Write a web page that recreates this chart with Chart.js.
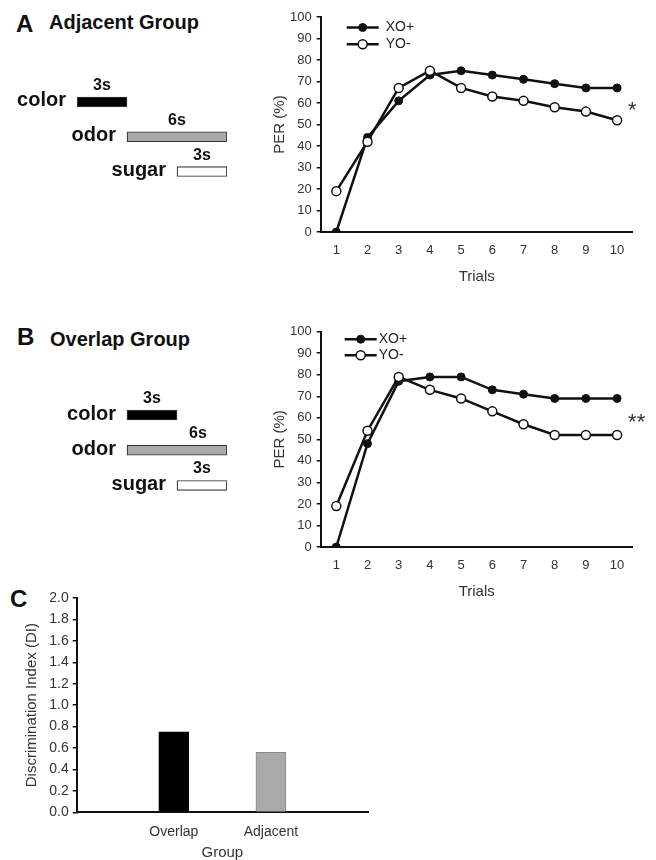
<!DOCTYPE html>
<html>
<head>
<meta charset="utf-8">
<script src="https://cdn.jsdelivr.net/npm/chart.js@4.4.1/dist/chart.umd.min.js"></script>
<style>
body { margin:0; background:#fff; width:656px; height:860px; position:relative; overflow:hidden; font-family:"Liberation Sans", Arial, sans-serif; }
.box { position:absolute; }
.title { position:absolute; font-weight:bold; color:#111; white-space:nowrap; line-height:1; }
</style>
</head>
<body>
<div class="title" style="left:16px;top:12px;font-size:24px">A</div>
<div class="title" style="left:49px;top:12px;font-size:20px">Adjacent Group</div>
<div class="title" style="left:17px;top:325px;font-size:24px">B</div>
<div class="title" style="left:50px;top:329px;font-size:20px">Overlap Group</div>
<div class="title" style="left:10px;top:587px;font-size:24px">C</div>

<div class="box" style="left:0;top:60px;width:270px;height:140px"><canvas id="diagA"></canvas></div>
<div class="box" style="left:0;top:370px;width:270px;height:140px"><canvas id="diagB"></canvas></div>
<div class="box" style="left:270px;top:0;width:386px;height:290px"><canvas id="lineA"></canvas></div>
<div class="box" style="left:270px;top:290px;width:386px;height:315px"><canvas id="lineB"></canvas></div>
<div class="box" style="left:0;top:580px;width:400px;height:280px"><canvas id="barC"></canvas></div>

<script>
// timing diagrams (seconds, both trials end with sugar at 9s)
const stimuli = ['color', 'odor', 'sugar'];
const adjacentTiming = [[0, 3], [3, 9], [6, 9]];
const overlapTiming = [[3, 6], [3, 9], [6, 9]];
const stimulusColors = ['#000', '#aaa', '#fff'];

// PER curves
const trials = ['1', '2', '3', '4', '5', '6', '7', '8', '9', '10'];
const adjacentXO = [0, 44, 61, 73, 75, 73, 71, 69, 67, 67];
const adjacentYO = [19, 42, 67, 75, 67, 63, 61, 58, 56, 52];
const overlapXO = [0, 48, 77, 79, 79, 73, 71, 69, 69, 69];
const overlapYO = [19, 54, 79, 73, 69, 63, 57, 52, 52, 52];
const sigAdjacent = '*';
const sigOverlap = '**';

// discrimination index
const groups = ['Overlap', 'Adjacent'];
const discrimination = [0.75, 0.56];
const groupColors = ['#000', '#aaa'];

Chart.defaults.font.family = '"Liberation Sans", Arial, sans-serif';
Chart.defaults.animation = false;

const FONT = '"Liberation Sans", Arial, sans-serif';

const timeline = {
    id: 'timeline',
    afterDatasetsDraw(chart, args, opts) {
        const ctx = chart.ctx;
        const timing = chart.data.datasets[0].data;
        chart.getDatasetMeta(0).data.forEach((bar, i) => {
            const { x, y, base, height } = bar.getProps(['x', 'y', 'base', 'height'], true);
            const left = Math.min(x, base), right = Math.max(x, base);
            ctx.save();
            ctx.fillStyle = '#111';
            ctx.font = 'bold 20px ' + FONT;
            ctx.textAlign = 'right';
            ctx.textBaseline = 'middle';
            ctx.fillText(chart.data.labels[i], left - 11, y - 1);
            ctx.font = 'bold 16px ' + FONT;
            ctx.textAlign = 'center';
            ctx.textBaseline = 'alphabetic';
            const shift = opts.shift ? opts.shift[i] : 0;
            ctx.fillText((timing[i][1] - timing[i][0]) + 's', (left + right) / 2 + shift, y - height / 2 - 7);
            ctx.restore();
        });
    }
};

function diagram(id, timing, pad, shift) {
    new Chart(document.getElementById(id), {
        type: 'bar',
        data: {
            labels: stimuli,
            datasets: [{
                data: timing,
                backgroundColor: stimulusColors,
                borderColor: '#333',
                borderWidth: 1.2,
                borderSkipped: false,
                barThickness: 10
            }]
        },
        options: {
            indexAxis: 'y',
            responsive: true,
            maintainAspectRatio: false,
            layout: { padding: pad },
            plugins: { legend: { display: false }, tooltip: { enabled: false }, timeline: { shift: shift } },
            scales: {
                x: { type: 'linear', min: 0, max: 9, display: false },
                y: { display: false }
            }
        },
        plugins: [timeline]
    });
}

diagram('diagA', adjacentTiming, { left: 77, right: 43, top: 24.6, bottom: 11.1 }, [0, 0, 0]);
diagram('diagB', overlapTiming, { left: 77, right: 43, top: 27.4, bottom: 6.9 }, [0, 21, 0]);

const lineLegend = {
    id: 'lineLegend',
    afterDraw(chart, args, opts) {
        const { ctx, chartArea } = chart;
        ctx.save();
        chart.data.datasets.forEach((ds, i) => {
            const y = chartArea.top + opts.top + i * opts.gap;
            const x0 = chartArea.left + opts.left;
            ctx.strokeStyle = ds.borderColor;
            ctx.lineWidth = ds.borderWidth;
            ctx.beginPath();
            ctx.moveTo(x0, y);
            ctx.lineTo(x0 + 32, y);
            ctx.stroke();
            ctx.beginPath();
            ctx.arc(x0 + 16, y, ds.pointRadius, 0, Math.PI * 2);
            ctx.fillStyle = ds.pointBackgroundColor;
            ctx.fill();
            ctx.lineWidth = ds.pointBorderWidth;
            ctx.strokeStyle = ds.pointBorderColor;
            ctx.stroke();
            ctx.fillStyle = '#222';
            ctx.font = '14px ' + FONT;
            ctx.textBaseline = 'middle';
            ctx.textAlign = 'left';
            ctx.fillText(ds.label, x0 + opts.textGap, y);
        });
        // significance stars beside the last trial
        const last = chart.data.labels.length - 1;
        const a = chart.data.datasets[0].data[last];
        const b = chart.data.datasets[1].data[last];
        const sx = chart.scales.x.getPixelForValue(last) + 11;
        const sy = chart.scales.y.getPixelForValue((a + b) / 2);
        ctx.fillStyle = '#333';
        ctx.font = '22px ' + FONT;
        ctx.textAlign = 'left';
        ctx.textBaseline = 'alphabetic';
        ctx.fillText(opts.stars, sx, sy + 12.5);
        ctx.restore();
    }
};

function perChart(id, xo, yo, stars, padTop, legend) {
    new Chart(document.getElementById(id), {
        type: 'line',
        data: {
            labels: trials,
            datasets: [
                { label: 'XO+', data: xo, order: 1, borderColor: '#111', borderWidth: 2.5, tension: 0,
                  pointRadius: 4, pointBackgroundColor: '#111', pointBorderColor: '#111', pointBorderWidth: 1 },
                { label: 'YO-', data: yo, order: 0, borderColor: '#111', borderWidth: 2.5, tension: 0,
                  pointRadius: 4.5, pointBackgroundColor: '#fff', pointBorderColor: '#111', pointBorderWidth: 1.5 }
            ]
        },
        options: {
            responsive: true,
            maintainAspectRatio: false,
            layout: { padding: { top: padTop, right: 23.3, left: 0, bottom: 0 } },
            plugins: { legend: { display: false }, tooltip: { enabled: false }, lineLegend: Object.assign({ stars: stars }, legend) },
            scales: {
                x: {
                    offset: true,
                    grid: { drawOnChartArea: false, drawTicks: false },
                    border: { display: true, color: '#111', width: 2 },
                    ticks: { color: '#333', font: { size: 13 }, padding: 11 },
                    title: { display: true, text: 'Trials', color: '#333', font: { size: 15 }, padding: { top: 4, bottom: 4 } },
                    afterFit: (s) => { s.height = 58; }
                },
                y: {
                    min: 0, max: 100,
                    grid: { drawOnChartArea: false, drawTicks: true, tickLength: 4, color: '#111', lineWidth: 1.5 },
                    border: { display: true, color: '#111', width: 2 },
                    ticks: { stepSize: 10, color: '#333', font: { size: 13 }, padding: 5 },
                    title: { display: true, text: 'PER (%)', color: '#333', font: { size: 15 }, padding: { top: 1, bottom: 0 } },
                    afterFit: (s) => { s.width = 50.7; }
                }
            }
        },
        plugins: [lineLegend]
    });
}

perChart('lineA', adjacentXO, adjacentYO, sigAdjacent, 17, { left: 26, top: 10.5, gap: 16.7, textGap: 39 });
perChart('lineB', overlapXO, overlapYO, sigOverlap, 41.7, { left: 24, top: 7.5, gap: 16, textGap: 34 });

// panel C bar chart, blank slots either side of the two groups
new Chart(document.getElementById('barC'), {
    type: 'bar',
    data: {
        labels: ['', ...groups, ''],
        datasets: [{
            data: [null, ...discrimination, null],
            backgroundColor: ['#000', ...groupColors, '#000'],
            borderColor: ['#000', '#000', '#888', '#000'],
            borderWidth: 1,
            barThickness: 30
        }]
    },
    options: {
        responsive: true,
        maintainAspectRatio: false,
        layout: { padding: { top: 18, right: 32, left: 0, bottom: 0 } },
        plugins: { legend: { display: false }, tooltip: { enabled: false } },
        scales: {
            x: {
                offset: false,
                grid: { drawOnChartArea: false, drawTicks: false },
                border: { display: true, color: '#111', width: 2 },
                ticks: { color: '#333', font: { size: 14 }, padding: 11, autoSkip: false, maxRotation: 0 },
                title: { display: true, text: 'Group', color: '#333', font: { size: 15, lineHeight: 1 }, padding: { top: 4, bottom: 0 } },
                afterFit: (s) => { s.height = 47.7; }
            },
            y: {
                min: 0, max: 2,
                grid: { drawOnChartArea: false, drawTicks: true, tickLength: 4, color: '#111', lineWidth: 1.5 },
                border: { display: true, color: '#111', width: 2 },
                ticks: { stepSize: 0.2, color: '#333', font: { size: 14 }, padding: 4, callback: (v) => v.toFixed(1) },
                title: { display: true, text: 'Discrimination Index (DI)', color: '#333', font: { size: 15 }, padding: { top: 22.7, bottom: 0 } },
                afterFit: (s) => { s.width = 76.7; }
            }
        }
    }
});
</script>
</body>
</html>
